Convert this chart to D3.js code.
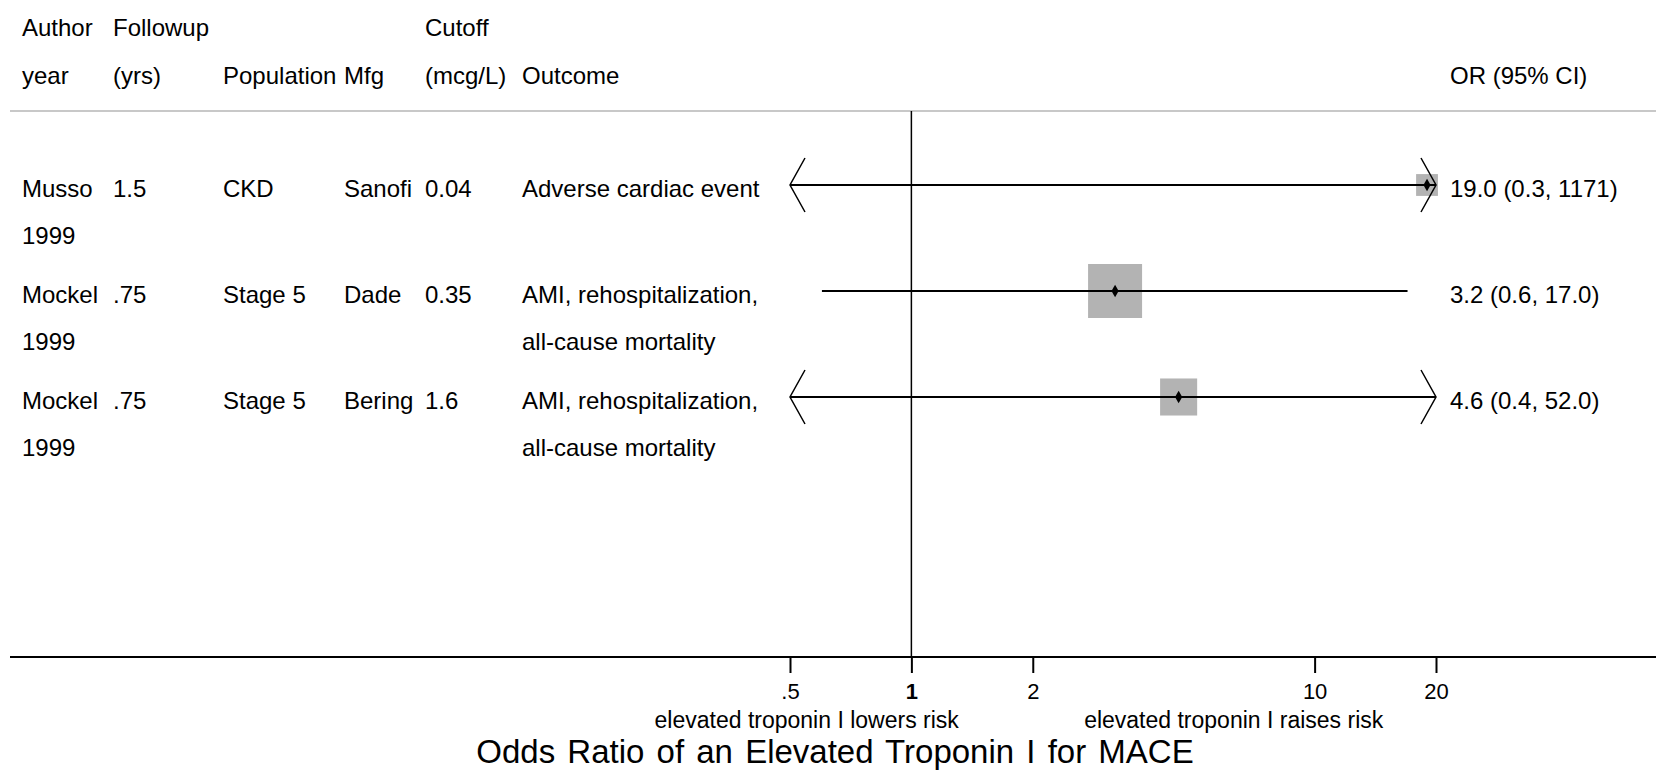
<!DOCTYPE html>
<html>
<head>
<meta charset="utf-8">
<script src="https://cdn.jsdelivr.net/npm/d3@7"></script>
<style>
  body { margin: 0; background: #fff; }
  text { font-family: "Liberation Sans", Arial, sans-serif; fill: #000; }
</style>
</head>
<body>
<div id="chart"></div>
<script>
// study table
var authors    = ["Musso", "Mockel", "Mockel"];
var years      = ["1999", "1999", "1999"];
var followup   = ["1.5", ".75", ".75"];
var population = ["CKD", "Stage 5", "Stage 5"];
var mfg        = ["Sanofi", "Dade", "Bering"];
var cutoff     = ["0.04", "0.35", "1.6"];
var outcome    = [["Adverse cardiac event"],
                  ["AMI, rehospitalization,", "all-cause mortality"],
                  ["AMI, rehospitalization,", "all-cause mortality"]];
var oddsRatio  = [19.0, 3.2, 4.6];
var ciLow      = [0.3, 0.6, 0.4];
var ciHigh     = [1171, 17.0, 52.0];
var weights    = [10.0, 61.2, 28.8];   // % weight, box area

var headers = [["Author", "year"], ["Followup", "(yrs)"], ["", "Population"],
               ["", "Mfg"], ["Cutoff", "(mcg/L)"], ["", "Outcome"], ["", "OR (95% CI)"]];
var tickVals   = [0.5, 1, 2, 10, 20];
var tickLabels = [".5", "1", "2", "10", "20"];
var xTitle = "Odds Ratio of an Elevated Troponin I for MACE";
var leftNote = "elevated troponin I lowers risk", rightNote = "elevated troponin I raises risk";

var width = 1656, height = 772;
var colX = [22, 113, 223, 344, 425, 522, 1450];
var axisY = 657, topLineY = 111;

var svg = d3.select("#chart").append("svg")
  .attr("width", width).attr("height", height);

var x = d3.scaleLog().domain([0.5, 20]).range([790, 1436]);
var y = d3.scalePoint().domain(d3.range(authors.length)).range([185, 397]);
var boxSide = d3.scaleSqrt().domain([0, d3.max(weights)]).range([0, 54]);

var rows = authors.map(function(a, i) {
  return { i: i, author: a, year: years[i], fu: followup[i], pop: population[i],
           mfg: mfg[i], cut: cutoff[i], out: outcome[i], or: oddsRatio[i],
           lo: ciLow[i], hi: ciHigh[i], w: weights[i] };
});

// header
headers.forEach(function(h, c) {
  h.forEach(function(t, k) {
    if (!t) return;
    svg.append("text").attr("x", colX[c]).attr("y", 36 + k * 48)
      .style("font-size", "24px").text(t);
  });
});
svg.append("line").attr("x1", 10).attr("x2", width)
  .attr("y1", topLineY).attr("y2", topLineY)
  .attr("stroke", "#c8c8c8").attr("stroke-width", 2);

// null line
svg.append("line").attr("x1", x(1)).attr("x2", x(1))
  .attr("y1", topLineY).attr("y2", axisY)
  .attr("stroke", "#000").attr("stroke-width", 1.5);

// row text
var fmt = function(v) { return v >= 100 ? d3.format("d")(v) : v.toFixed(1); };
rows.forEach(function(d) {
  var base = y(d.i) + 11.5;
  var cols = [[d.author, d.year], [d.fu], [d.pop], [d.mfg], [d.cut], d.out,
              [fmt(d.or) + " (" + fmt(d.lo) + ", " + fmt(d.hi) + ")"]];
  cols.forEach(function(lines, c) {
    lines.forEach(function(t, k) {
      svg.append("text").attr("x", colX[c]).attr("y", base + k * 47)
        .style("font-size", "24px").text(t);
    });
  });
});

// boxes
var g = svg.append("g");
g.selectAll("rect.box").data(rows).enter().append("rect")
  .attr("class", "box")
  .attr("x", function(d) { return x(d.or) - boxSide(d.w) / 2; })
  .attr("y", function(d) { return y(d.i) - boxSide(d.w) / 2; })
  .attr("width", function(d) { return boxSide(d.w); })
  .attr("height", function(d) { return boxSide(d.w); })
  .attr("fill", "#b3b3b3");

// CI lines, clipped to the axis range
var dom = x.domain();
g.selectAll("line.ci").data(rows).enter().append("line")
  .attr("class", "ci")
  .attr("x1", function(d) { return x(Math.max(d.lo, dom[0])); })
  .attr("x2", function(d) { return x(Math.min(d.hi, dom[1])); })
  .attr("y1", function(d) { return y(d.i); })
  .attr("y2", function(d) { return y(d.i); })
  .attr("stroke", "#000").attr("stroke-width", 2);

// arrows where CI runs off the scale
var arrowW = 15, arrowH = 27;
rows.forEach(function(d) {
  var cy = y(d.i);
  if (d.lo < dom[0]) {
    var tx = x(dom[0]);
    g.append("path").attr("d", "M" + (tx + arrowW) + "," + (cy - arrowH) + "L" + tx + "," + cy + "L" + (tx + arrowW) + "," + (cy + arrowH))
      .attr("fill", "none").attr("stroke", "#000").attr("stroke-width", 1.5);
  }
  if (d.hi > dom[1]) {
    var tx2 = x(dom[1]);
    g.append("path").attr("d", "M" + (tx2 - arrowW) + "," + (cy - arrowH) + "L" + tx2 + "," + cy + "L" + (tx2 - arrowW) + "," + (cy + arrowH))
      .attr("fill", "none").attr("stroke", "#000").attr("stroke-width", 1.5);
  }
});

// point estimates
g.selectAll("path.pt").data(rows).enter().append("path")
  .attr("class", "pt")
  .attr("d", d3.symbol().type(d3.symbolDiamond).size(45))
  .attr("transform", function(d) { return "translate(" + x(d.or) + "," + y(d.i) + ")"; })
  .attr("fill", "#000");

// x axis
svg.append("line").attr("x1", 10).attr("x2", width)
  .attr("y1", axisY).attr("y2", axisY)
  .attr("stroke", "#000").attr("stroke-width", 2);

var xAxis = d3.axisBottom(x)
  .tickValues(tickVals)
  .tickFormat(function(d, i) { return tickLabels[i]; })
  .tickSize(16).tickSizeOuter(0).tickPadding(10);

var ax = svg.append("g").attr("transform", "translate(0," + axisY + ")").call(xAxis);
ax.select(".domain").remove();
ax.selectAll(".tick line").attr("stroke", "#000").attr("stroke-width", 2);
ax.selectAll(".tick text")
  .style("font-size", "22px")
  .style("font-family", "'Liberation Sans', Arial, sans-serif")
  .attr("fill", "#000")
  .style("font-weight", function(d) { return d === 1 ? "bold" : "normal"; });

svg.append("text").attr("x", x(0.55)).attr("y", 728).attr("text-anchor", "middle")
  .style("font-size", "23px").text(leftNote);
svg.append("text").attr("x", x(6.3)).attr("y", 728).attr("text-anchor", "middle")
  .style("font-size", "23px").text(rightNote);

svg.append("text").attr("x", 835).attr("y", 763).attr("text-anchor", "middle")
  .style("font-size", "33px").style("word-spacing", "3px").text(xTitle);
</script>
</body>
</html>
